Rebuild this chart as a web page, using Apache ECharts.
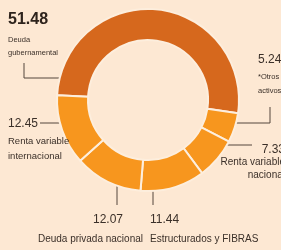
<!DOCTYPE html>
<html>
<head>
<meta charset="utf-8">
<script src="https://cdn.jsdelivr.net/npm/echarts@6/dist/echarts.min.js"></script>
<style>
    html, body { margin: 0; padding: 0; background: #fde8d3; }
    #chart { width: 281px; height: 250px; }
</style>
</head>
<body>
<div id="chart"></div>
<script>
// datos de la cartera (%)
var categories = ['Deuda\ngubernamental', '*Otros\nactivos', 'Renta variable\nnacional', 'Estructurados y FIBRAS', 'Deuda privada nacional', 'Renta variable\ninternacional'];
var values = [51.48, 5.24, 7.33, 11.44, 12.07, 12.45];
var sliceColors = ['#d6681d', '#f7961e', '#f7961e', '#f7961e', '#f7961e', '#f7961e'];

var FONT = "'Liberation Sans Narrow', 'Liberation Sans', sans-serif";
var TXT = '#3b3029';

// posicion de cada etiqueta y su linea guia
var labelPos = [
    { x: 8, y: 10, align: 'left', line: [[67, 78], [24, 78], [24, 63]] },
    { x: 258, y: 50, align: 'left', line: [[227, 123], [270, 123], [270, 107]] },
    { x: 285, y: 143, align: 'right', line: [[218, 145], [235, 145], [252, 145]] },
    { x: 150, y: 211, align: 'left', line: [[153, 182], [153, 194], [153, 205]] },
    { x: 143, y: 211, align: 'right', line: [[117, 182], [117, 194], [117, 205]] },
    { x: 8, y: 114, align: 'left', line: [[70, 123], [55, 123], [40, 123]] }
];

function st(size, lh, more) {
    return Object.assign({ fontFamily: FONT, fontSize: size, color: TXT, lineHeight: lh }, more || {});
}

var labelRich = [
    { formatter: '{big|{c}}\n{s|}\n{sm|{b}}',
      rich: { big: st(16, 19, { fontWeight: 'bold', color: '#2e231c' }), s: { lineHeight: 4 }, sm: st(7.5, 13) } },
    { formatter: '{v|{c}}\n{sm|{b}}',
      rich: { v: st(12, 20), sm: st(7.5, 14) } },
    { formatter: '{v|{c}}\n{t|{b}}',
      rich: { v: st(12, 13, { align: 'right' }), t: st(10, 12.5, { align: 'right' }) } },
    { formatter: '{v|{c}}\n{t|{b}}',
      rich: { v: st(12, 18), t: st(10, 20) } },
    { formatter: '{v|{c}}\n{t|{b}}',
      rich: { v: st(12, 18, { align: 'right', padding: [0, 20, 0, 0] }), t: st(10, 20, { align: 'right' }) } },
    { formatter: '{v|{c}}\n{t|{b}}',
      rich: { v: st(12, 20), t: st(9.5, 15) } }
];

var seriesData = values.map(function (v, i) {
    return {
        value: v,
        name: categories[i],
        itemStyle: { color: sliceColors[i] },
        label: labelRich[i]
    };
});

var chart = echarts.init(document.getElementById('chart'));
chart.setOption({
    backgroundColor: '#fde8d3',
    animation: false,
    series: [{
        type: 'pie',
        center: [148, 100],
        radius: [60, 91],
        startAngle: 177,
        avoidLabelOverlap: false,
        emphasis: { disabled: true },
        itemStyle: { borderColor: '#fdeedd', borderWidth: 2 },
        label: { show: true, position: 'outside' },
        labelLine: { show: true, smooth: false, lineStyle: { color: '#55463c', width: 1 } },
        labelLayout: function (params) {
            var p = labelPos[params.dataIndex];
            return { x: p.x, y: p.y, align: p.align, verticalAlign: 'top', labelLinePoints: p.line };
        },
        data: seriesData
    }]
});
</script>
</body>
</html>
